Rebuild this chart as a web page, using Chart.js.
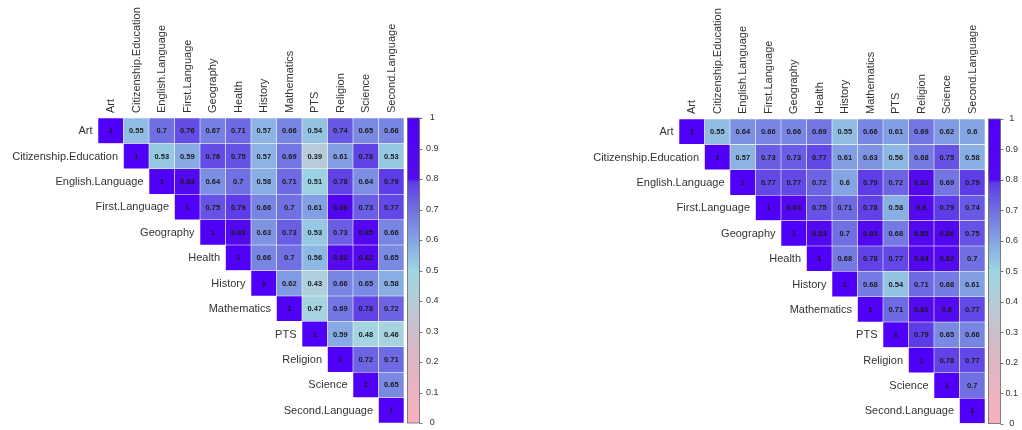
<!DOCTYPE html>
<html>
<head>
<meta charset="utf-8">
<script src="https://cdn.jsdelivr.net/npm/chart.js@4.4.1/dist/chart.umd.min.js"></script>
<style>
  html, body { margin: 0; padding: 0; background: #fff; width: 1022px; height: 430px; overflow: hidden; }
  .panel { position: absolute; top: 0; width: 511px; height: 430px; }
</style>
</head>
<body>
<div class="panel" style="left:0"><canvas id="corrA" width="511" height="430"></canvas></div>
<div class="panel" style="left:511px"><canvas id="corrB" width="511" height="430"></canvas></div>
<script>
// Subjects, shared by both correlation matrices
const subjects = ['Art', 'Citizenship.Education', 'English.Language', 'First.Language',
  'Geography', 'Health', 'History', 'Mathematics', 'PTS', 'Religion', 'Science', 'Second.Language'];

// Upper triangles: each row starts at its own diagonal cell
const corrRowsA = [
  [1, 0.55, 0.7, 0.76, 0.67, 0.71, 0.57, 0.66, 0.54, 0.74, 0.65, 0.66],
  [1, 0.53, 0.59, 0.76, 0.75, 0.57, 0.69, 0.39, 0.61, 0.78, 0.53],
  [1, 0.83, 0.64, 0.7, 0.58, 0.71, 0.51, 0.78, 0.64, 0.79],
  [1, 0.75, 0.79, 0.66, 0.7, 0.61, 0.86, 0.73, 0.77],
  [1, 0.83, 0.63, 0.73, 0.53, 0.73, 0.85, 0.66],
  [1, 0.66, 0.7, 0.56, 0.82, 0.82, 0.65],
  [1, 0.62, 0.43, 0.66, 0.65, 0.58],
  [1, 0.47, 0.69, 0.78, 0.72],
  [1, 0.59, 0.48, 0.46],
  [1, 0.72, 0.71],
  [1, 0.65],
  [1]
];

const corrRowsB = [
  [1, 0.55, 0.64, 0.66, 0.66, 0.69, 0.55, 0.66, 0.61, 0.69, 0.62, 0.6],
  [1, 0.57, 0.73, 0.73, 0.77, 0.61, 0.63, 0.56, 0.68, 0.75, 0.58],
  [1, 0.77, 0.77, 0.72, 0.6, 0.79, 0.72, 0.81, 0.69, 0.79],
  [1, 0.84, 0.75, 0.71, 0.78, 0.58, 0.8, 0.79, 0.74],
  [1, 0.83, 0.7, 0.83, 0.68, 0.85, 0.86, 0.75],
  [1, 0.68, 0.78, 0.77, 0.84, 0.82, 0.7],
  [1, 0.68, 0.54, 0.71, 0.68, 0.61],
  [1, 0.71, 0.81, 0.8, 0.77],
  [1, 0.79, 0.65, 0.66],
  [1, 0.78, 0.77],
  [1, 0.7],
  [1]
];

// Colour ramp: pink at 0, light blue at 0.5, violet at 1
const rampStops = [
  [0.00, [249, 176, 189]],
  [0.25, [216, 184, 198]],
  [0.40, [182, 204, 217]],
  [0.50, [157, 214, 227]],
  [0.60, [132, 164, 228]],
  [0.70, [112, 112, 226]],
  [0.79, [94, 60, 232]],
  [0.80, [84, 10, 238]],
  [1.00, [80, 0, 248]]
];

function rampColor(v) {
  for (let k = 1; k < rampStops.length; k++) {
    const [p1, c1] = rampStops[k];
    const [p0, c0] = rampStops[k - 1];
    if (v <= p1) {
      const t = (v - p0) / (p1 - p0);
      const c = c0.map((a, n) => Math.round(a + (c1[n] - a) * t));
      return `rgb(${c[0]},${c[1]},${c[2]})`;
    }
  }
  const c = rampStops[rampStops.length - 1][1];
  return `rgb(${c[0]},${c[1]},${c[2]})`;
}

const FONT = '"Liberation Sans", Arial, Helvetica, sans-serif';
const CB_WIDTH = 36;

// Cell values, row labels beside the diagonal, and the colour bar
const matrixDecor = {
  id: 'matrixDecor',
  afterDatasetsDraw(chart, args, opts) {
    const { ctx, scales } = chart;
    const xs = scales.x, ys = scales.y, cb = scales.cb;
    const rows = opts.rows;
    const cellW = xs.getPixelForValue(1) - xs.getPixelForValue(0);
    ctx.save();
    // values
    ctx.font = 'bold 7.5px ' + FONT;
    ctx.fillStyle = '#1a1a1a';
    ctx.textAlign = 'center';
    ctx.textBaseline = 'middle';
    chart.data.datasets.forEach((ds, i) => {
      const meta = chart.getDatasetMeta(i);
      meta.data.forEach((el, j) => {
        if (j < i) return;
        const p = el.getCenterPoint();
        ctx.fillText(String(rows[i][j - i]), p.x, p.y + 0.5);
      });
    });
    // row labels
    ctx.font = '11px ' + FONT;
    ctx.fillStyle = '#333';
    ctx.textAlign = 'right';
    subjects.forEach((s, i) => {
      const x = xs.getPixelForValue(i) - cellW / 2 - 5.5;
      ctx.fillText(s, x, ys.getPixelForValue(i) + 0.5);
    });
    // colour bar
    const yTop = cb.getPixelForValue(1), yBot = cb.getPixelForValue(0);
    const bx = cb.left + 3.5, bw = 12;
    const grad = ctx.createLinearGradient(0, yBot, 0, yTop);
    rampStops.forEach(([p, c]) => grad.addColorStop(p, `rgb(${c[0]},${c[1]},${c[2]})`));
    ctx.fillStyle = grad;
    ctx.fillRect(bx, yTop, bw, yBot - yTop);
    ctx.strokeStyle = '#666';
    ctx.lineWidth = 0.8;
    ctx.strokeRect(bx, yTop, bw, yBot - yTop);
    ctx.strokeStyle = '#555';
    cb.ticks.forEach(t => {
      const y = Math.round(cb.getPixelForValue(t.value)) + 0.5;
      ctx.beginPath();
      ctx.moveTo(bx + bw, y);
      ctx.lineTo(bx + bw + 3, y);
      ctx.stroke();
    });
    ctx.restore();
  }
};

function drawMatrix(canvasId, rows, area) {
  const datasets = rows.map((row, i) => ({
    label: subjects[i],
    data: subjects.map((_, j) => (j >= i ? [i - 0.5, i + 0.5] : null)),
    backgroundColor: c => (c.dataIndex >= i ? rampColor(row[c.dataIndex - i]) : 'transparent'),
    borderColor: 'rgba(255,255,255,0.18)',
    borderWidth: 0.6,
    borderSkipped: false,
    barPercentage: 1,
    categoryPercentage: 1,
    grouped: false
  }));

  return new Chart(document.getElementById(canvasId), {
    type: 'bar',
    data: { labels: subjects, datasets },
    options: {
      responsive: false,
      animation: false,
      devicePixelRatio: 1,
      layout: {
        padding: { left: area.left, right: 511 - area.right - CB_WIDTH, top: 0, bottom: 430 - area.bottom }
      },
      plugins: {
        legend: { display: false },
        tooltip: { enabled: false },
        matrixDecor: { rows }
      },
      scales: {
        x: {
          type: 'category',
          position: 'top',
          offset: true,
          grid: { display: false, drawTicks: false, tickLength: 0 },
          border: { display: false },
          ticks: {
            autoSkip: false, minRotation: 90, maxRotation: 90, padding: 5, labelOffset: 13.5,
            color: '#333', font: { family: FONT, size: 11 }
          },
          afterFit: s => { s.height = area.top; }
        },
        y: {
          type: 'linear', reverse: true, min: -0.5, max: 11.5, display: false
        },
        cb: {
          type: 'linear', position: 'right', min: 0, max: 1,
          grid: { display: false, drawTicks: true, tickLength: area.cbPad - 1 },
          border: { display: false },
          ticks: {
            stepSize: 0.1, padding: 1, crossAlign: 'center',
            color: '#333', font: { family: FONT, size: 9 },
            callback: v => String(Math.round(v * 10) / 10)
          },
          afterFit: s => { s.width = CB_WIDTH; }
        }
      }
    },
    plugins: [matrixDecor]
  });
}

drawMatrix('corrA', corrRowsA, { left: 98, right: 404, top: 118, bottom: 423, cbPad: 22 });
drawMatrix('corrB', corrRowsB, { left: 168, right: 474, top: 119, bottom: 426, cbPad: 20.5 });
</script>
</body>
</html>
